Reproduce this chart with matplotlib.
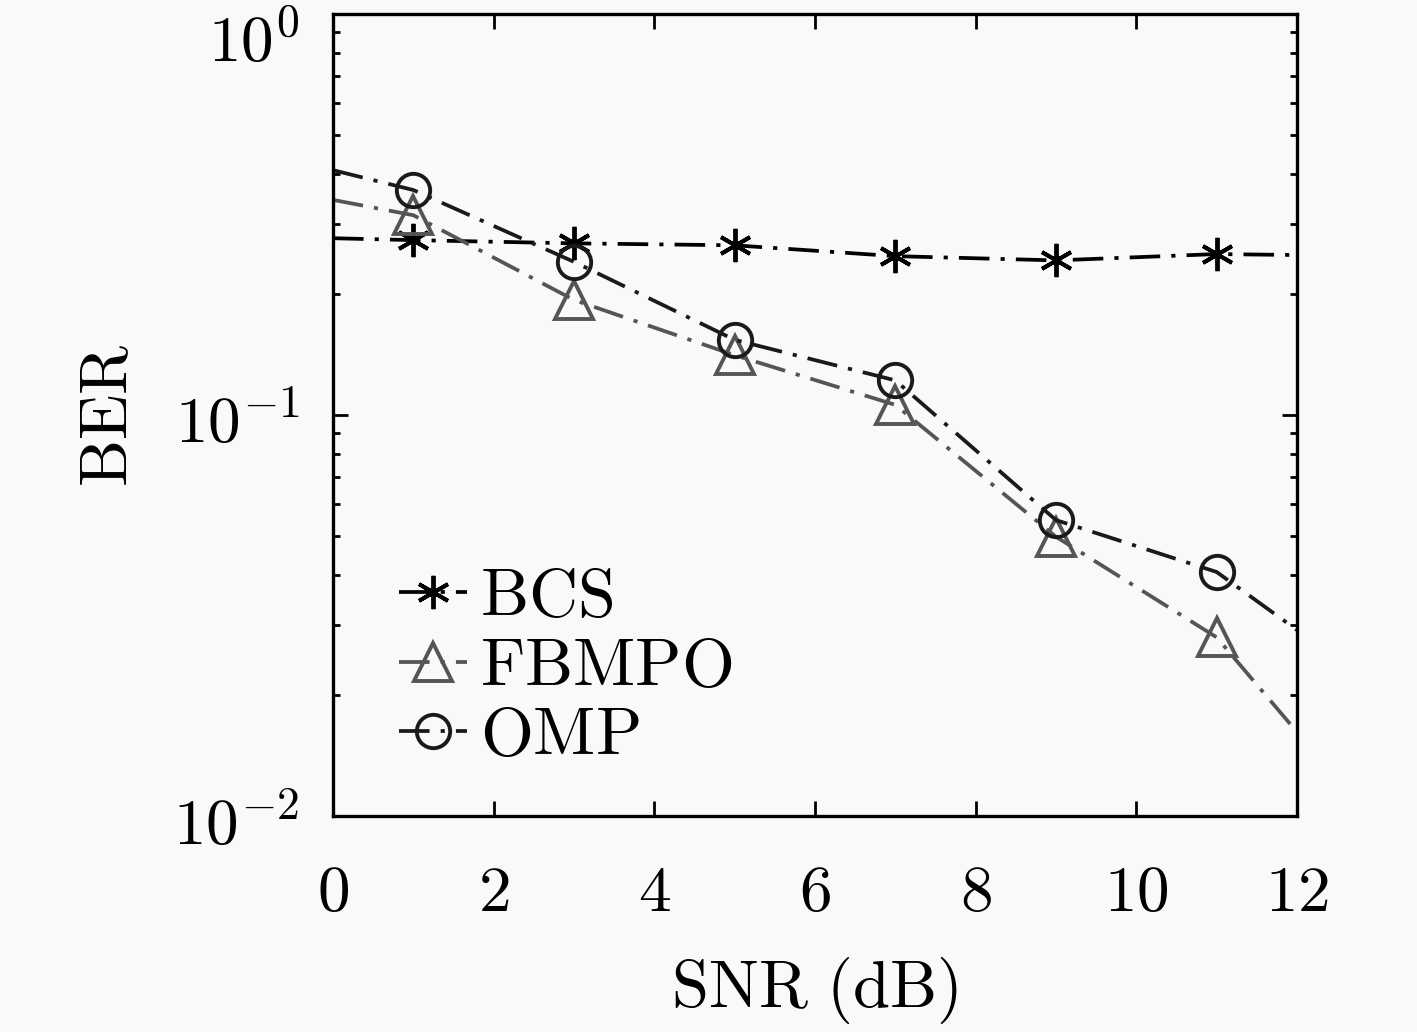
import matplotlib
matplotlib.use("Agg")
import matplotlib.pyplot as plt
from matplotlib.ticker import FixedLocator, FixedFormatter, LogLocator, NullFormatter
from matplotlib.transforms import ScaledTranslation

plt.rcParams['font.family'] = ['cmr10', 'DejaVu Serif']
plt.rcParams['mathtext.fontset'] = 'cm'
plt.rcParams['axes.formatter.use_mathtext'] = True
plt.rcParams['lines.scale_dashes'] = False

snr = [0, 1, 3, 5, 7, 9, 11, 12]
ber_bcs = [0.276, 0.273, 0.268, 0.265, 0.249, 0.243, 0.252, 0.2506]
ber_fbmpo = [0.344, 0.315, 0.1936, 0.141, 0.106, 0.0497, 0.0279, 0.0162]
ber_omp = [0.408, 0.364, 0.241, 0.154, 0.122, 0.0547, 0.0406, 0.0291]
labels = ['BCS', 'FBMPO', 'OMP']
xticks = [0, 2, 4, 6, 8, 10, 12]
yticks = [1e-2, 1e-1, 1e0]
ytick_labels = [r'$10^{-2}$', r'$10^{-1}$', r'$10^{0}$']

fig = plt.figure(figsize=(14.17, 10.32), dpi=100)
fig.patch.set_facecolor('#f9f9f9')
ax = fig.add_axes([0.235, 0.2093, 0.6803, 0.7771])
ax.set_facecolor('#f9f9f9')

ds = (0, (22, 8, 3, 8))
mark = [1, 2, 3, 4, 5, 6]
ax.plot(snr, ber_bcs, color='black', lw=2.7, ls=ds, marker=(6, 2, 0), ms=24,
        mew=2.8, markevery=mark, label=labels[0])
ax.plot(snr, ber_fbmpo, color='#555555', lw=2.7, ls=ds, marker='^', ms=28,
        mfc='none', mew=2.8, markevery=mark, label=labels[1])
ax.plot(snr, ber_omp, color='#1a1a1a', lw=2.7, ls=ds, marker='o', ms=24,
        mfc='none', mew=2.8, markevery=mark, label=labels[2])

ax.set_yscale('log')
ax.set_xlim(0, 12)
ax.set_ylim(1e-2, 1e0)
ax.xaxis.set_major_locator(FixedLocator(xticks))
ax.xaxis.set_major_formatter(FixedFormatter([rf'${t}$' for t in xticks]))
ax.yaxis.set_major_locator(FixedLocator(yticks))
ax.yaxis.set_major_formatter(FixedFormatter(ytick_labels))
ax.yaxis.set_minor_locator(LogLocator(base=10, subs=range(2, 10)))
ax.yaxis.set_minor_formatter(NullFormatter())

ax.tick_params(which='both', direction='in', top=True, right=True, labelsize=47, width=2)
ax.tick_params(which='major', length=11)
ax.tick_params(axis='x', which='major', pad=36)
ax.tick_params(axis='y', which='major', pad=24)
ax.tick_params(which='minor', length=5)
for s in ax.spines.values():
    s.set_linewidth(2.4)

fig.canvas.draw()
ylabs = ax.yaxis.get_ticklabels()
shift = ScaledTranslation(0, -24 / 100, fig.dpi_scale_trans)
ylabs[-1].set_transform(ylabs[-1].get_transform() + shift)
shift2 = ScaledTranslation(0, -4 / 100, fig.dpi_scale_trans)
for lab in ylabs[:-1]:
    lab.set_transform(lab.get_transform() + shift2)

ax.set_xlabel(r'$\mathrm{SNR\ (dB)}$', fontsize=48, labelpad=22)
ax.set_ylabel(r'$\mathrm{BER}$', fontsize=48, labelpad=24)

leg = ax.legend(loc='lower left', bbox_to_anchor=(0.068, 0.06), frameon=False,
                fontsize=49, handlelength=1.0, handletextpad=0.2, labelspacing=0.12,
                borderaxespad=0, borderpad=0)
for t in leg.get_texts():
    t.set_text(r'$\mathrm{' + t.get_text() + '}$')

fig.savefig('out.png', dpi=100, facecolor=fig.get_facecolor())
